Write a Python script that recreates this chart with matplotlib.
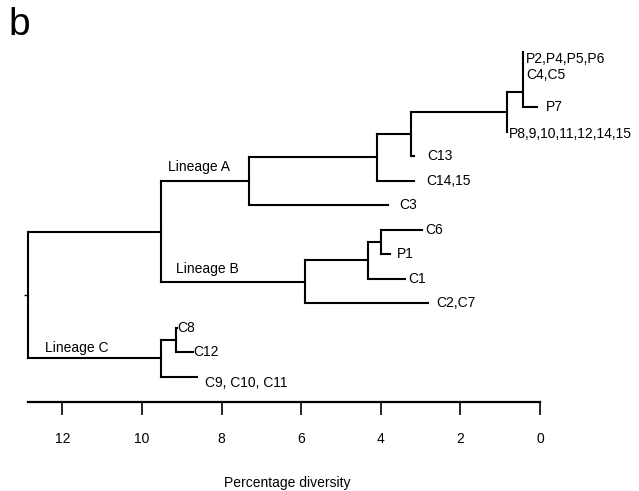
import matplotlib
matplotlib.use("Agg")
import matplotlib.pyplot as plt

plt.rcParams["font.family"] = ["Liberation Sans", "DejaVu Sans"]

# leaves of the tree (top to bottom)
leaf_names = ["P2,P4,P5,P6\nC4,C5", "P7", "P8,9,10,11,12,14,15", "C13", "C14,15", "C3",
              "C6", "P1", "C1", "C2,C7", "C8", "C12", "C9, C10, C11"]
leaf_div = [0.42, 0.08, 0.84, 3.17, 3.17, 3.83, 2.97, 3.77, 3.39, 2.81, 9.12, 8.72, 8.62]
leaf_row = [0.77, 2, 3, 4, 5, 6, 7, 8, 9, 10, 11, 12, 13]

# internal nodes: name, percentage diversity, children
node_names = ["W", "Z", "Y", "X", "A", "B2", "B1", "B", "AB", "Cc", "C", "root"]
node_div = [0.42, 0.84, 3.23, 4.09, 7.30, 3.99, 4.33, 5.90, 9.51, 9.15, 9.51, 12.86]
node_children = [
    ["P2,P4,P5,P6\nC4,C5", "P7"],
    ["W", "P8,9,10,11,12,14,15"],
    ["Z", "C13"],
    ["Y", "C14,15"],
    ["X", "C3"],
    ["C6", "P1"],
    ["B2", "C1"],
    ["B1", "C2,C7"],
    ["A", "B"],
    ["C8", "C12"],
    ["Cc", "C9, C10, C11"],
    ["AB", "C"],
]

lineage_names = ["Lineage A", "Lineage B", "Lineage C"]
lineage_nodes = ["A", "B", "C"]

xticks = [0, 2, 4, 6, 8, 10, 12]

# label offsets in pixels (dx, dy up)
label_pad = {"P2,P4,P5,P6\nC4,C5": (3, 10), "P7": (9, 0), "P8,9,10,11,12,14,15": (2, -2),
             "C13": (13, 0), "C14,15": (12, 0), "C3": (12, 0), "C6": (3, 0), "P1": (7, 0),
             "C1": (3, 0), "C2,C7": (8, 0), "C8": (0, 0), "C12": (0, 0),
             "C9, C10, C11": (8, -6)}
lineage_pad = [(7, 14), (15, 13), (17, 10)]

W, H = 639, 491
fig = plt.figure(figsize=(W / 100, H / 100), dpi=100)
ax = fig.add_axes([0, 0, 1, 1])
ax.set_xlim(540 / 39.81, (540 - W) / 39.81)
ax.set_ylim((H - 58.3) / 24.5, -58.3 / 24.5)

pos = {}
for n, d, r in zip(leaf_names, leaf_div, leaf_row):
    pos[n] = (d, r)
for n, d, ch in zip(node_names, node_div, node_children):
    ys = [pos[c][1] for c in ch]
    pos[n] = (d, (min(ys) + max(ys)) / 2)

kw = dict(color="black", lw=1.5, solid_capstyle="projecting")
for n, d, ch in zip(node_names, node_div, node_children):
    ys = [pos[c][1] for c in ch]
    top = min(ys)
    for c in ch:
        if "\n" in c:
            top = pos[c][1] - 1.03
    ax.plot([d, d], [top, max(ys)], **kw)
    for c in ch:
        cx, cy = pos[c]
        ax.plot([d, cx], [cy, cy], **kw)

# root stem
rx, ry = pos["root"]

for n in leaf_names:
    x, y = pos[n]
    dx, dy = label_pad[n]
    ax.annotate(n, (x, y), xytext=(dx * 0.72, dy * 0.72), textcoords="offset points",
                ha="left", va="center", fontsize=10, linespacing=1.2)

for name, node, (dx, dy) in zip(lineage_names, lineage_nodes, lineage_pad):
    x, y = pos[node]
    parent = [p for p, ch in zip(node_names, node_children) if node in ch][0]
    px = pos[parent][0]
    ax.annotate(name, (px, y), xytext=(dx * 0.72, dy * 0.72), textcoords="offset points",
                ha="left", va="center", fontsize=10)

# scale axis
for s in ["top", "right"]:
    ax.spines[s].set_visible(False)
ax.spines["bottom"].set_position(("data", (402 - 58.3) / 24.5))
ax.spines["bottom"].set_bounds(0, node_div[-1])
ax.spines["bottom"].set_linewidth(1.6)
ax.set_xticks(xticks)
ax.set_xticklabels([str(t) for t in xticks])
ax.tick_params(axis="x", direction="out", length=9.4, width=1.2, pad=12, labelsize=10)

ax.spines["left"].set_position(("data", rx))
ax.spines["left"].set_visible(False)
ax.set_yticks([ry])
ax.set_yticklabels([""])
ax.tick_params(axis="y", direction="out", length=3, width=1)

ax.text(6.36, (483.3 - 58.3) / 24.5, "Percentage diversity", ha="center", va="center",
        fontsize=10)

fig.text(8 / W, 1 - 35 / H, "b", fontsize=28, ha="left", va="baseline")

fig.savefig("out.png", dpi=100)
